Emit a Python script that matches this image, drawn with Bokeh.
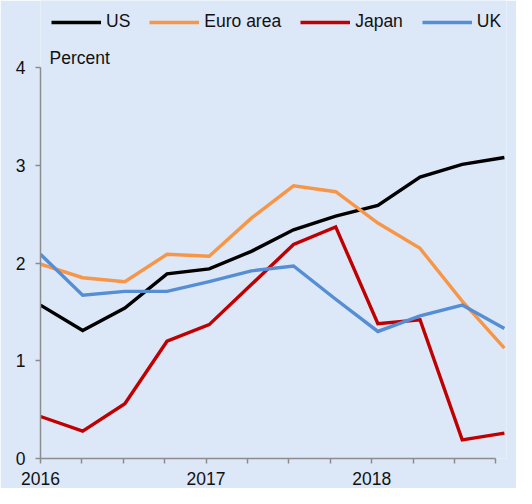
from bokeh.plotting import figure
from bokeh.models import (Range1d, LinearAxis, FixedTicker, Legend, LegendItem, Label)
from bokeh.embed import file_html
from bokeh.resources import INLINE

QUARTERS = ["2016Q1", "2016Q2", "2016Q3", "2016Q4",
            "2017Q1", "2017Q2", "2017Q3", "2017Q4",
            "2018Q1", "2018Q2", "2018Q3", "2018Q4"]
YEAR_LABELS = {0: "2016", 4: "2017", 8: "2018"}

US = [1.57, 1.31, 1.54, 1.89, 1.94, 2.12, 2.34, 2.48, 2.59, 2.88, 3.01, 3.08]
EURO = [1.99, 1.85, 1.81, 2.09, 2.07, 2.46, 2.79, 2.73, 2.41, 2.15, 1.61, 1.13]
JAPAN = [0.43, 0.28, 0.56, 1.20, 1.37, 1.78, 2.19, 2.37, 1.38, 1.42, 0.19, 0.26]
UK = [2.09, 1.67, 1.71, 1.71, 1.81, 1.92, 1.97, 1.63, 1.30, 1.46, 1.57, 1.33]

SERIES = [("US", US, "#000000"),
          ("Euro area", EURO, "#F79646"),
          ("Japan", JAPAN, "#C00000"),
          ("UK", UK, "#558ED5")]

BG = "#DCE8F7"
FONT = "Liberation Sans"
FS = "17.5px"
AXIS_COLOR = "#8C8C8C"

x = list(range(len(QUARTERS)))

p = figure(width=516, height=488, output_backend="svg", toolbar_location=None,
           x_range=Range1d(0, 11.05), y_range=Range1d(0, 4.687),
           min_border_left=40, min_border_right=10, min_border_top=0, min_border_bottom=30,
           background_fill_color=BG, border_fill_color=BG)
p.outline_line_color = None
p.grid.visible = False
p.xaxis.visible = False

# separate axis range so the tick spacing matches the reference
p.extra_x_ranges = {"ax": Range1d(0, 11.05 * 43.5 / 42.7)}
xa = LinearAxis(x_range_name="ax", ticker=FixedTicker(ticks=x),
                major_label_overrides={k: v for k, v in YEAR_LABELS.items()})
for t in x:
    if t not in YEAR_LABELS:
        xa.major_label_overrides[t] = ""
xa.bounds = (0, 11)
p.add_layout(xa, "below")

ya = p.yaxis[0]
ya.ticker = FixedTicker(ticks=[0, 1, 2, 3, 4])
ya.bounds = (0, 4)

for ax in (xa, ya):
    ax.axis_line_color = AXIS_COLOR
    ax.axis_line_width = 1.5
    ax.major_tick_line_color = AXIS_COLOR
    ax.major_tick_line_width = 1.5
    ax.major_tick_in = 0
    ax.major_tick_out = 5
    ax.minor_tick_line_color = None
    ax.major_label_text_font = FONT
    ax.major_label_text_font_size = FS
    ax.major_label_text_color = "#111111"
ya.major_label_standoff = 10
xa.major_label_standoff = 8

items = []
for name, vals, color in SERIES:
    r = p.line(x, vals, line_color=color, line_width=3.4, line_join="miter")
    items.append(LegendItem(label=name, renderers=[r]))

legend = Legend(items=items, orientation="horizontal", location=(11, 426),
                glyph_width=50, glyph_height=20, label_height=20,
                label_standoff=5, spacing=19, padding=0, margin=0,
                label_text_font=FONT, label_text_font_size=FS,
                label_text_color="#111111",
                background_fill_alpha=0, border_line_alpha=0)
p.add_layout(legend, "center")

p.add_layout(Label(x=9, y=4.10, x_units="screen", y_units="data", text="Percent",
                   text_font=FONT, text_font_size=FS, text_color="#111111",
                   text_baseline="middle"))

open("out.html", "w").write(file_html(p, INLINE))
